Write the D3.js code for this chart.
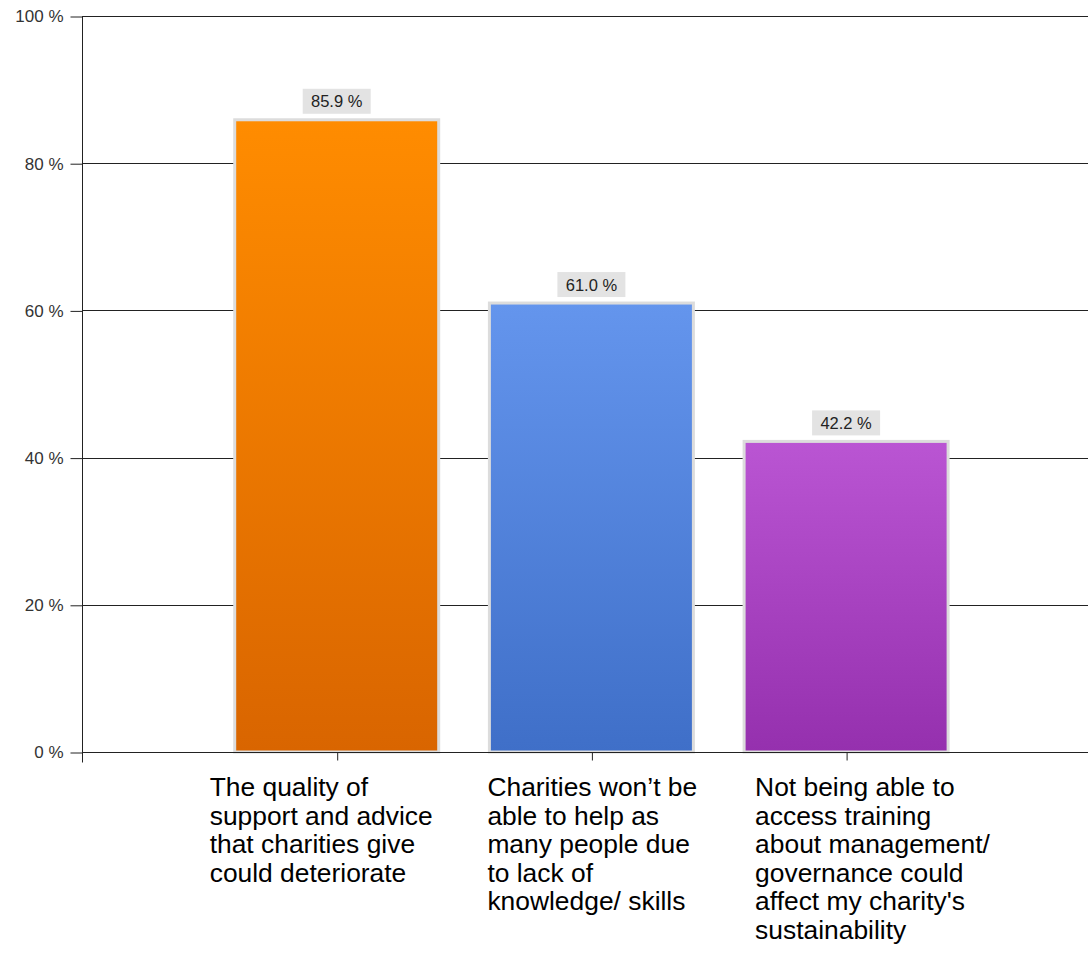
<!DOCTYPE html>
<html>
<head>
<meta charset="utf-8">
<script src="https://cdn.jsdelivr.net/npm/d3@7/dist/d3.min.js"></script>
<style>
  html, body { margin: 0; padding: 0; background: #fff; }
  svg { display: block; }
</style>
</head>
<body>
<svg id="chart" width="1088" height="960"></svg>
<script>
// Survey answers: share of respondents per concern
const categories = [
  ["The quality of", "support and advice", "that charities give", "could deteriorate"],
  ["Charities won\u2019t be", "able to help as", "many people due", "to lack of", "knowledge/ skills"],
  ["Not being able to", "access training", "about management/", "governance could", "affect my charity's", "sustainability"]
];
const values = [85.9, 61.0, 42.2];
const yTicks = [0, 20, 40, 60, 80, 100];
const valueLabels = ["85.9 %", "61.0 %", "42.2 %"];

// Bar fills: top colour, bottom colour
const barColors = [
  ["#ff8c00", "#d96500"],
  ["#6495ed", "#3f6fc8"],
  ["#ba55d3", "#9530ae"]
];

const svg = d3.select("#chart");
const left = 82, zeroY = 752, topY = 16;
const slot = 254.7;
const font = "Arial, 'Liberation Sans', sans-serif";

const x = d3.scaleLinear().domain([0, 4]).range([left, left + 4 * slot]);
const y = d3.scaleLinear().domain([0, 100]).range([zeroY, topY]);

// Gradients
const defs = svg.append("defs");
barColors.forEach((c, i) => {
  const g = defs.append("linearGradient")
    .attr("id", "grad" + i).attr("x1", 0).attr("y1", 0).attr("x2", 0).attr("y2", 1);
  g.append("stop").attr("offset", "0%").attr("stop-color", c[0]);
  g.append("stop").attr("offset", "100%").attr("stop-color", c[1]);
});

// Horizontal gridlines
svg.append("g").selectAll("line").data(yTicks.filter(d => d > 0)).join("line")
  .attr("x1", left).attr("x2", 1088)
  .attr("y1", d => Math.round(y(d)) + 0.5).attr("y2", d => Math.round(y(d)) + 0.5)
  .attr("stroke", "#222").attr("stroke-width", 1);

// Y axis
const yAxis = d3.axisLeft(y).tickValues(yTicks).tickSize(12).tickPadding(7)
  .tickFormat(d => d + " %");
const yg = svg.append("g").attr("transform", `translate(${left + 0.5},0.5)`).call(yAxis);
yg.select(".domain").attr("stroke", "#222").attr("d", `M0,${topY}V${zeroY + 10}`);
yg.selectAll(".tick line").attr("stroke", "#222");
yg.selectAll(".tick text").attr("font-family", font)
  .attr("font-size", 17).attr("fill", "#333");

// Bars
const barW = 204;
const bars = svg.append("g");
values.forEach((v, i) => {
  const cx = x(i + 1);
  bars.append("rect")
    .attr("x", cx - barW / 2).attr("width", barW)
    .attr("y", y(v)).attr("height", zeroY - y(v))
    .attr("fill", `url(#grad${i})`)
    .attr("stroke", "#dcdcdc").attr("stroke-width", 3);
});

// X axis
const xAxis = d3.axisBottom(x).tickValues([1, 2, 3]).tickSize(8).tickFormat("");
const xg = svg.append("g").attr("transform", `translate(0.5,${zeroY + 0.5})`).call(xAxis);
xg.select(".domain").attr("stroke", "#222").attr("d", `M${left},0H1088`);
xg.selectAll(".tick line").attr("stroke", "#222");

// Value labels
const lab = svg.append("g");
values.forEach((v, i) => {
  const cx = x(i + 1);
  const by = y(v);
  lab.append("rect")
    .attr("x", cx - 34).attr("y", by - 31).attr("width", 68).attr("height", 25)
    .attr("fill", "#e3e3e3");
  lab.append("text")
    .attr("x", cx).attr("y", by - 12.5)
    .attr("text-anchor", "middle")
    .attr("font-family", font)
    .attr("font-size", 16.5).attr("fill", "#222")
    .text(valueLabels[i]);
});

// Category labels
const labelOffset = [-127, -104, -91];
const cat = svg.append("g");
categories.forEach((lines, i) => {
  const t = cat.append("text")
    .attr("x", x(i + 1) + labelOffset[i]).attr("y", 796)
    .attr("font-family", font)
    .attr("font-size", 26.4).attr("fill", "#000");
  lines.forEach((ln, j) => {
    t.append("tspan").attr("x", x(i + 1) + labelOffset[i]).attr("dy", j === 0 ? 0 : 28.5).text(ln);
  });
});
</script>
</body>
</html>
